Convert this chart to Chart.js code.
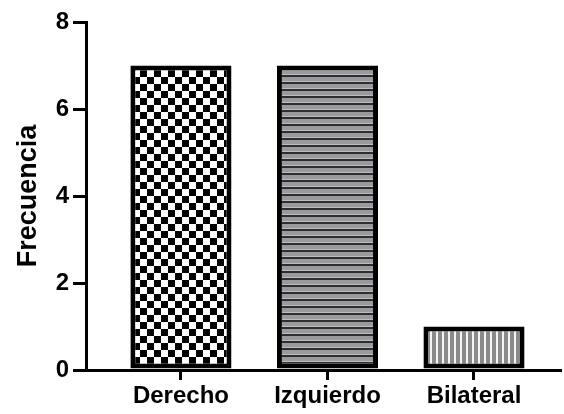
<!DOCTYPE html>
<html><head><meta charset="utf-8">
<script src="https://cdn.jsdelivr.net/npm/chart.js@4"></script>
<style>html,body{margin:0;padding:0;background:#fff}#wrap{width:564px;height:414px}</style>
</head><body><div id="wrap"><canvas id="c" width="564" height="414"></canvas></div>
<script>
const categories = ["Derecho", "Izquierdo", "Bilateral"];
const frecuencia = [7, 7, 1];
const yTicks = [0, 2, 4, 6, 8];
const yTitle = "Frecuencia";

function makePattern(kind) {
  const c = document.createElement('canvas');
  const ctx = c.getContext('2d');
  if (kind === 0) {
    c.width = 14; c.height = 14;
    ctx.fillStyle = '#fff'; ctx.fillRect(0,0,14,14);
    ctx.fillStyle = '#000'; ctx.fillRect(0,0,7,7); ctx.fillRect(7,7,7,7);
  } else if (kind === 1) {
    c.width = 8; c.height = 7;
    ctx.fillStyle = '#9a9a9e'; ctx.fillRect(0,0,8,7);
    ctx.fillStyle = '#2e2e30'; ctx.fillRect(0,5,8,2);
    ctx.fillStyle = '#bdbdc0'; ctx.fillRect(0,4,8,1);
  } else {
    c.width = 6; c.height = 8;
    ctx.fillStyle = '#8a8a8a'; ctx.fillRect(0,0,6,8);
    ctx.fillStyle = '#f4f4f4'; ctx.fillRect(4,0,2,8);
  }
  return document.getElementById('c').getContext('2d').createPattern(c, 'repeat');
}

const data = frecuencia.map((v, i) => ({x: i, y: v}));
Chart.defaults.font.family = "'Liberation Sans', Arial, sans-serif";
Chart.defaults.font.weight = 'bold';
Chart.defaults.color = '#000';

new Chart(document.getElementById('c'), {
  type: 'bar',
  data: {
    datasets: [{
      data: data,
      backgroundColor: [makePattern(0), makePattern(1), makePattern(2)],
      borderColor: '#000',
      borderWidth: 5,
      borderSkipped: false,
      categoryPercentage: 1,
      barPercentage: 0.69
    }]
  },
  options: {
    responsive: false,
    animation: false,
    layout: { padding: { top: 22, right: 4, left: 0, bottom: 0 } },
    plugins: { legend: { display: false }, tooltip: { enabled: false } },
    scales: {
      x: {
        type: 'linear',
        offset: false,
        min: -0.648,
        max: 2.587,
        grid: { offset: false, drawOnChartArea: false, drawTicks: true, tickLength: 10, lineWidth: 3, color: '#000' },
        border: { width: 3, color: '#000' },
        afterBuildTicks: s => { s.ticks = categories.map((_, i) => ({ value: i })); },
        afterFit: s => { s.height = 44; },
        ticks: {
          autoSkip: false, maxRotation: 0, padding: 2,
          font: { size: 24, weight: 'bold' },
          callback: v => categories[v]
        }
      },
      y: {
        type: 'linear',
        min: 0, max: 8,
        grid: { drawOnChartArea: false, drawTicks: true, tickLength: 13, lineWidth: 3, color: '#000' },
        border: { width: 3, color: '#000' },
        afterBuildTicks: s => { s.ticks = yTicks.map(v => ({ value: v })); },
        afterFit: s => { s.width = 86; },
        ticks: {
          padding: 4,
          autoSkip: false,
          font: { size: 24, weight: 'bold' },
          callback: v => String(v)
        },
        title: {
          display: true, text: yTitle,
          font: { size: 27, weight: 'bold' },
          padding: { top: 12, bottom: 0 }
        }
      }
    }
  }
});
</script>
</body></html>
